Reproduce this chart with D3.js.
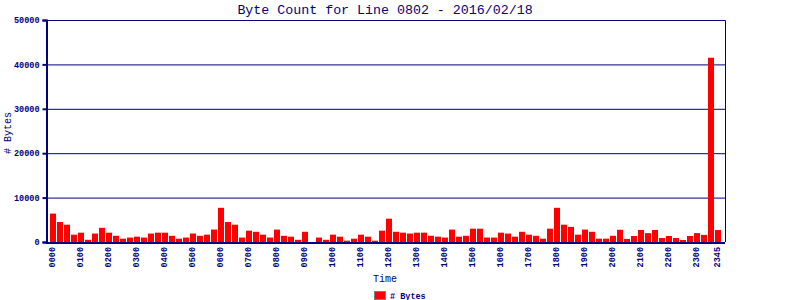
<!DOCTYPE html>
<html>
<head>
<meta charset="utf-8">
<script src="https://cdn.jsdelivr.net/npm/d3@7"></script>
<style>
  body { margin: 0; background: #fff; }
  svg { display: block; }
</style>
</head>
<body>
<div id="chart"></div>
<script>
const title = "Byte Count for Line 0802 - 2016/02/18";
const seriesName = "# Bytes";

// 15 minute slots, 0000 .. 2345
const slots = d3.range(96).map(i => {
  const h = Math.floor(i / 4), m = (i % 4) * 15;
  return String(h).padStart(2, "0") + String(m).padStart(2, "0");
});

const tickLabels = ["0000", "0100", "0200", "0300", "0400", "0500", "0600", "0700",
  "0800", "0900", "1000", "1100", "1200", "1300", "1400", "1500", "1600", "1700",
  "1800", "1900", "2000", "2100", "2200", "2300", "2345"];

const yTicks = [0, 10000, 20000, 30000, 40000, 50000];

const bytes = [
  6400, 4500, 3900, 1650, 2100, 500, 1900, 3200, 2100, 1400, 750, 1000,
  1200, 1000, 1900, 2100, 2100, 1400, 750, 1000, 1900, 1400, 1650, 2800,
  7700, 4500, 3900, 1000, 2550, 2300, 1650, 1000, 2800, 1400, 1200, 500,
  2300, 0, 1000, 500, 1650, 1200, 300, 750, 1650, 1200, 300, 2550,
  5250, 2300, 2100, 1900, 2100, 2100, 1400, 1200, 1000, 2800, 1200, 1400,
  3000, 3000, 1000, 1000, 2100, 1900, 1200, 2300, 1650, 1400, 750, 3000,
  7700, 3900, 3400, 1650, 2800, 2300, 750, 750, 1400, 2750, 700, 1350,
  2700, 2000, 2700, 900, 1350, 900, 450, 1350, 2000, 1600, 41500, 2700
];

const navy = "#000080";
const mono = "'Liberation Mono', 'DejaVu Sans Mono', monospace";

const width = 800, height = 300;
const plot = { left: 46, right: 725, top: 20, bottom: 242 };

const svg = d3.select("#chart")
  .append("svg")
  .attr("width", width)
  .attr("height", height);

const x = d3.scaleBand()
  .domain(slots)
  .range([plot.left, plot.right])
  .paddingInner(1 / 7)
  .paddingOuter(4 / 7);

const y = d3.scaleLinear()
  .domain([0, 50000])
  .range([plot.bottom, plot.top]);

// grid lines
svg.append("g")
  .selectAll("line")
  .data(yTicks.filter(d => d > 0))
  .join("line")
  .attr("x1", plot.left)
  .attr("x2", plot.right)
  .attr("y1", d => y(d) + 0.5)
  .attr("y2", d => y(d) + 0.5)
  .attr("stroke", navy)
  .attr("stroke-width", 1);

// bars
svg.append("g")
  .selectAll("rect")
  .data(bytes)
  .join("rect")
  .attr("x", (d, i) => x(slots[i]))
  .attr("y", d => y(d))
  .attr("width", x.bandwidth())
  .attr("height", d => y(0) - y(d))
  .attr("fill", "#ff0000");

// frame
svg.append("path")
  .attr("d", `M${plot.left + 0.5},${plot.bottom}V${plot.top + 0.5}H${plot.right + 0.5}V${plot.bottom}`)
  .attr("fill", "none")
  .attr("stroke", navy)
  .attr("stroke-width", 1);

// y axis
const yAxis = d3.axisLeft(y)
  .tickValues(yTicks)
  .tickSize(4)
  .tickPadding(3)
  .tickFormat(d3.format("d"));
const yAxisG = svg.append("g")
  .attr("transform", `translate(${plot.left + 0.5},0)`)
  .call(yAxis);
yAxisG.select(".domain").attr("stroke", navy).attr("stroke-width", 2);
yAxisG.selectAll(".tick line").attr("stroke", navy).attr("stroke-width", 2);
yAxisG.selectAll(".tick text")
  .attr("fill", navy)
  .attr("font-family", mono)
  .attr("font-size", 8.5)
  .attr("font-weight", "bold");

// x axis
const xAxis = d3.axisBottom(x)
  .tickValues(tickLabels)
  .tickSize(0)
  .tickPadding(0);
const xAxisG = svg.append("g")
  .attr("transform", `translate(0,${plot.bottom})`)
  .call(xAxis);
xAxisG.select(".domain")
  .attr("stroke", navy)
  .attr("stroke-width", 2)
  .attr("d", `M${plot.left},1H${plot.right}`);
xAxisG.selectAll(".tick text")
  .attr("fill", navy)
  .attr("font-family", mono)
  .attr("font-size", 8.5)
  .attr("font-weight", "bold")
  .attr("transform", "rotate(-90)")
  .attr("text-anchor", "end")
  .attr("dominant-baseline", "middle")
  .attr("x", -5)
  .attr("y", 0)
  .attr("dy", 0);

// title
svg.append("text")
  .attr("x", 385)
  .attr("y", 14)
  .attr("text-anchor", "middle")
  .attr("fill", navy)
  .attr("font-family", mono)
  .attr("font-size", 13.3)
  .text(title);

// axis titles
svg.append("text")
  .attr("x", 385)
  .attr("y", 282)
  .attr("text-anchor", "middle")
  .attr("fill", navy)
  .attr("font-family", mono)
  .attr("font-size", 10)
  .text("Time");

svg.append("text")
  .attr("transform", "translate(11,133) rotate(-90)")
  .attr("text-anchor", "middle")
  .attr("fill", navy)
  .attr("font-family", mono)
  .attr("font-size", 10)
  .text(seriesName);

// legend
const legend = svg.append("g").attr("transform", "translate(374,291)");
legend.append("rect")
  .attr("x", 0.5)
  .attr("y", 0.5)
  .attr("width", 11)
  .attr("height", 8)
  .attr("fill", "#ff0000")
  .attr("stroke", "#808080")
  .attr("stroke-width", 1);
legend.append("text")
  .attr("x", 16)
  .attr("y", 7.5)
  .attr("fill", navy)
  .attr("font-family", mono)
  .attr("font-size", 8.5)
  .attr("font-weight", "bold")
  .text(seriesName);
</script>
</body>
</html>
